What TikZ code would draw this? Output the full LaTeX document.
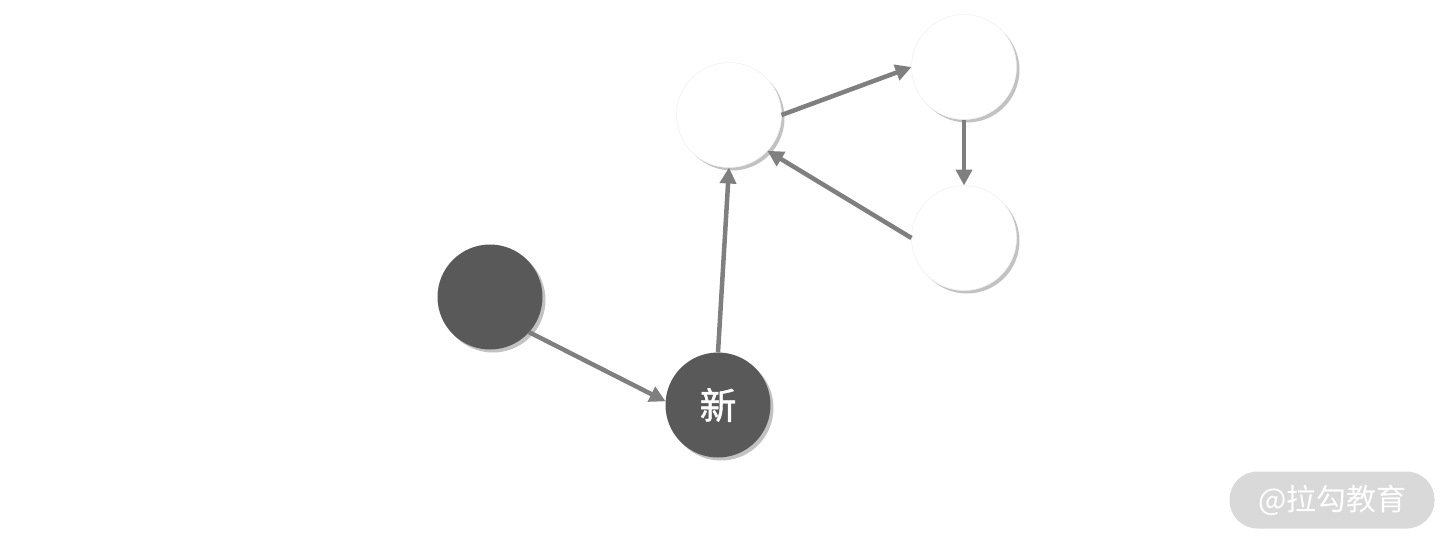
\documentclass[tikz,border=0pt]{standalone}
\usepackage{fontspec}
\newfontfamily\cjk{Noto Sans CJK SC}
\newfontfamily\cjkm[FakeBold=1.2]{Noto Sans CJK SC}
\usetikzlibrary{arrows.meta,shadows}
\definecolor{darknode}{HTML}{595959}
\definecolor{edgegray}{HTML}{7F7F7F}
\definecolor{badge}{HTML}{D9D9D9}
\tikzset{
  vertex/.style={circle, minimum size=105*0.02cm, inner sep=0pt, outer sep=0pt,
    drop shadow={shadow xshift=3*0.02cm, shadow yshift=-3*0.02cm, opacity=0.4, fill=black!60}},
  darkv/.style={vertex, fill=darknode, text=white},
  lightv/.style={vertex, fill=white, draw=black!6, line width=0.3pt},
  link/.style={draw=edgegray, line width=4.5*0.02cm,
    -{Triangle[length=16*0.02cm, width=16*0.02cm]}, shorten >=0pt}
}
\begin{document}
\begin{tikzpicture}[x=0.02cm, y=-0.02cm]
\useasboundingbox (0,0) rectangle (1454,549);
% nodes
\node[darkv] (a) at (490,297) {};
\node[darkv, font={\cjkm\fontsize{21}{21}\selectfont}] (n) at (718,405) {新};
\node[lightv] (p) at (729,115) {};
\node[lightv] (q) at (964,67) {};
\node[lightv] (r) at (964,238) {};
% links
\draw[link] (a.-42) -- (n.176);
\draw[link] (n.north) -- (p.south);
\draw[link] (p.east) -- (q.west);
\draw[link] (q.south) -- (r.north);
\draw[link] (r.west) -- (p.-43);
% badge
\node[fill=badge, rounded corners=28*0.02cm, minimum width=205*0.02cm,
  minimum height=57*0.02cm, text=white, inner sep=0pt,
  font={\cjk\fontsize{17}{17}\selectfont}] (w) at (1332,500) {@拉勾教育};
\end{tikzpicture}
\end{document}
